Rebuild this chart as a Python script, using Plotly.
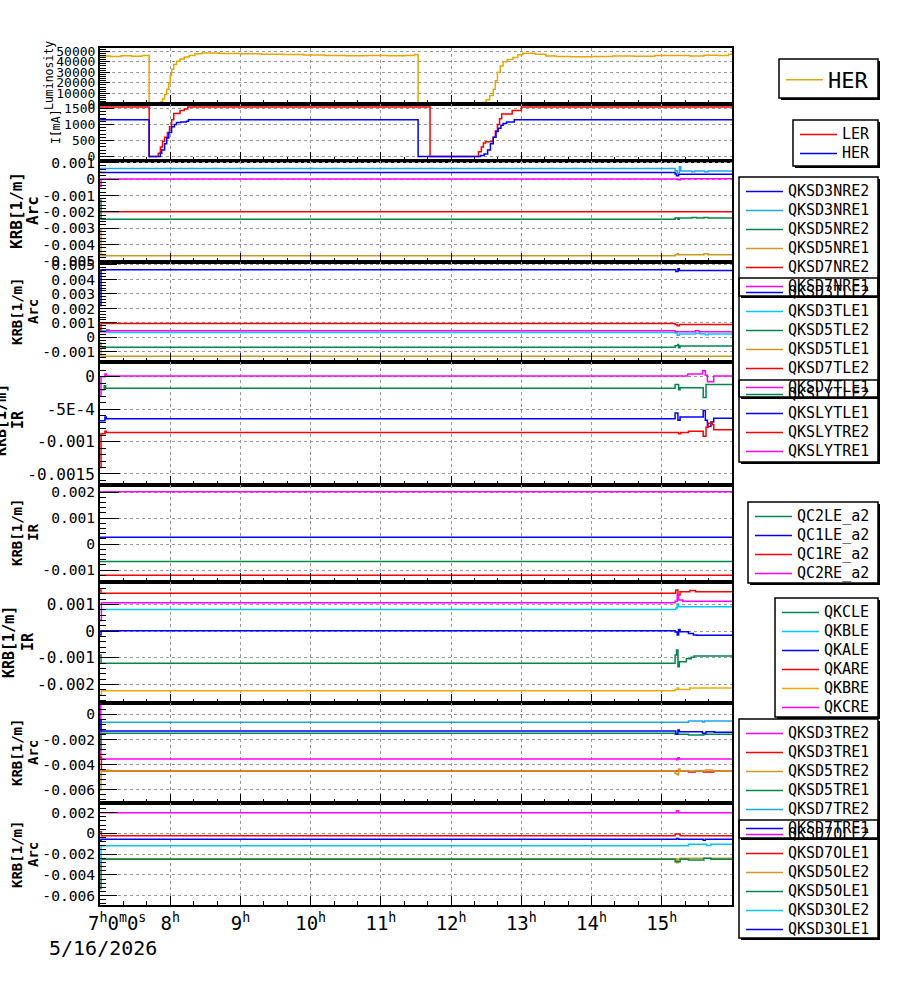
import pandas as pd
import plotly.graph_objects as go

W, H = 900, 984
DAY = pd.Timestamp("2026-05-16")

# ---------------- data: (hour of day, value) ----------------
LUMI_HER = [(7.00, 45500), (7.15, 45000), (7.30, 45600), (7.45, 45200), (7.60, 45800), (7.70, 0),
            (7.86, 2000), (7.89, 5000), (7.92, 9000), (7.95, 14000), (7.98, 20000), (8.00, 27000),
            (8.02, 33000), (8.05, 37500), (8.09, 40500), (8.14, 42500), (8.20, 44500), (8.27, 46000),
            (8.35, 47500), (8.45, 48200), (8.70, 47800), (9.00, 47500), (9.30, 47000), (9.60, 46800),
            (9.90, 46300), (10.20, 46000), (10.50, 45700), (10.80, 46000), (11.10, 45600), (11.35, 46000),
            (11.48, 46800), (11.53, 0), (12.46, 1500), (12.50, 4000), (12.55, 8000), (12.60, 14000),
            (12.63, 22000), (12.66, 30000), (12.70, 36000), (12.74, 40000), (12.80, 42000), (12.88, 44000),
            (12.95, 46500), (13.02, 48000), (13.20, 47000), (13.35, 45500), (13.50, 45000), (13.70, 44700),
            (14.00, 45000), (14.30, 45500), (14.60, 45200), (14.90, 45800), (15.20, 46000), (15.40, 45400),
            (15.60, 46200), (15.80, 45800), (15.95, 47000), (16.00, 47000)]

CUR_LER = [(7.00, 1550), (7.70, 0), (7.83, 100), (7.86, 300), (7.89, 480), (7.92, 600), (7.96, 750),
           (7.99, 930), (8.02, 1150), (8.05, 1340), (8.14, 1440), (8.20, 1480), (8.25, 1550), (11.70, 0),
           (12.39, 150), (12.43, 300), (12.46, 420), (12.49, 460), (12.60, 600), (12.63, 800), (12.66, 1000),
           (12.69, 1180), (12.72, 1330), (12.87, 1440), (13.00, 1550), (16.00, 1550)]
CUR_HER = [(7.00, 1150), (7.70, 0), (7.86, 100), (7.88, 200), (7.92, 400), (7.95, 580), (7.98, 750),
           (8.02, 930), (8.06, 1000), (8.09, 1060), (8.15, 1080), (8.23, 1100), (8.26, 1150), (11.53, 0),
           (12.42, 30), (12.47, 80), (12.52, 200), (12.56, 400), (12.60, 600), (12.64, 780), (12.67, 880),
           (12.71, 980), (12.74, 1030), (12.79, 1080), (12.90, 1150), (16.00, 1150)]

QKSD3NRE2 = [(7.0, 0.00042), (7.015, 0.0004), (15.19, 0.0003), (15.21, 0.0002), (15.24, 0.00029), (16.0, 0.00029)]
QKSD3NRE1 = [(7.0, 0.00065), (15.19, 0.0005), (15.22, 0.00035), (15.25, 0.00075), (15.27, 0.00049), (15.43, 0.00044),
             (15.47, 0.00049), (15.61, 0.00044), (15.66, 0.00049), (16.0, 0.00049)]
QKSD5NRE2 = [(7.0, -0.0013), (7.015, -0.00246), (15.19, -0.00238), (15.23, -0.00246), (15.25, -0.00238),
             (15.43, -0.00234), (15.5, -0.00238), (15.6, -0.00234), (15.66, -0.00238), (16.0, -0.00238)]
QKSD5NRE1 = [(7.0, -0.0031), (7.015, -0.00468), (15.19, -0.00462), (15.22, -0.00455), (15.24, -0.00462),
             (15.6, -0.00455), (15.66, -0.00462), (16.0, -0.00462)]
QKSD7NRE2 = [(7.0, -0.002), (16.0, -0.002)]
QKSD7NRE1 = [(7.0, -0.00045), (7.015, 0.0), (15.23, -0.00004), (15.27, 0.00002), (16.0, 0.00002)]

QKSD3TLE2 = [(7.0, 0.0022), (7.015, 0.00466), (15.2, 0.00455), (15.23, 0.00473), (15.25, 0.00461), (16.0, 0.00461)]
QKSD3TLE1 = [(7.0, 0.00045), (7.1, 0.0005), (7.12, 0.00034), (15.19, 0.0003), (15.22, 0.00015), (15.25, 0.00023),
             (15.48, 0.00028), (15.55, 0.00023), (15.62, 0.00018), (15.66, 0.00023), (16.0, 0.00023)]
QKSD5TLE2 = [(7.0, -0.0004), (7.015, -0.00068), (15.19, -0.00058), (15.23, -0.0005), (15.24, -0.00072),
             (15.26, -0.0006), (16.0, -0.0006)]
QKSD5TLE1 = [(7.0, -0.0004), (7.015, -0.0013), (16.0, -0.0013)]
QKSD7TLE2 = [(7.0, 0.0005), (7.015, 0.00096), (15.19, 0.00089), (15.22, 0.0008), (15.25, 0.00089), (16.0, 0.00089)]
QKSD7TLE1 = [(7.0, 0.00038), (7.1, 0.0005), (7.13, 0.00045), (15.19, 0.00038), (15.48, 0.00045), (15.53, 0.00038),
             (16.0, 0.00038)]

QKSLYTLE2 = [(7.0, -0.0002), (7.06, -0.00014), (7.08, -0.00018), (15.19, -0.00012), (15.24, -0.0002),
             (15.26, -0.00017), (15.59, -0.00032), (15.63, -0.00012), (16.0, -0.00012)]
QKSLYTLE1 = [(7.0, -0.00068), (7.07, -0.00062), (7.09, -0.00065), (15.19, -0.00056), (15.23, -0.00067),
             (15.26, -0.00062), (15.59, -0.00052), (15.62, -0.00067), (15.65, -0.00077), (15.7, -0.0007),
             (15.74, -0.00064), (16.0, -0.00064)]
QKSLYTRE2 = [(7.0, -0.0014), (7.015, -0.00088), (7.07, -0.00084), (7.09, -0.00086), (15.24, -0.00088),
             (15.27, -0.00086), (15.38, -0.00084), (15.59, -0.00092), (15.63, -0.00078), (15.66, -0.00072),
             (15.72, -0.00074), (15.74, -0.00082), (16.0, -0.00082)]
QKSLYTRE1 = [(7.0, -0.0003), (7.015, 0.0), (7.07, 0.00004), (7.09, 0.00001), (15.37, 0.00004), (15.58, 0.00009),
             (15.62, 0.00002), (15.65, -0.00008), (15.74, 0.00001), (16.0, 0.00001)]

QC2LE_a2 = [(7.0, -0.00067), (16.0, -0.00067)]
QC1LE_a2 = [(7.0, 0.00026), (16.0, 0.00026)]
QC1RE_a2 = [(7.0, -0.0012), (16.0, -0.0012)]
QC2RE_a2 = [(7.0, 0.00201), (16.0, 0.00201)]

QKCLE = [(7.0, -0.0009), (7.015, -0.00121), (15.19, -0.0009), (15.21, -0.00071), (15.23, -0.00134),
         (15.25, -0.00115), (15.35, -0.00104), (15.42, -0.00098), (15.46, -0.00094), (16.0, -0.00094)]
QKBLE = [(7.0, 0.00081), (15.2, 0.00086), (15.22, 0.00101), (15.24, 0.00091), (16.0, 0.00091)]
QKALE = [(7.0, -0.00015), (7.015, 0.00001), (15.19, -0.00004), (15.22, -0.00015), (15.24, 0.00006),
         (15.26, -0.00003), (15.38, -0.00009), (15.45, -0.00015), (15.5, -0.00016), (16.0, -0.00016)]
QKARE = [(7.0, 0.00154), (7.015, 0.00142), (15.2, 0.00154), (15.23, 0.00135), (15.26, 0.00147), (15.4, 0.00152),
         (15.48, 0.00147), (16.0, 0.00147)]
QKBRE = [(7.0, -0.0024), (7.02, -0.00224), (15.19, -0.00219), (15.22, -0.00214), (15.24, -0.00219),
         (15.4, -0.00214), (16.0, -0.00214)]
QKCRE = [(7.0, 0.0004), (7.02, 0.00106), (15.19, 0.00112), (15.22, 0.00135), (15.24, 0.00116), (15.3, 0.00112),
         (16.0, 0.00112)]

QKSD3TRE2 = [(7.0, 0.0008), (7.012, -0.00355), (15.21, -0.0036), (15.23, -0.00344), (15.25, -0.00355), (16.0, -0.00355)]
QKSD3TRE1 = [(7.0, -0.0034), (7.02, -0.0045), (15.38, -0.00458), (15.48, -0.0045), (15.59, -0.00458),
             (15.74, -0.0045), (16.0, -0.0045)]
QKSD5TRE2 = [(7.0, -0.006), (7.015, -0.0045), (7.1, -0.00442), (7.12, -0.0045), (15.19, -0.0047), (15.22, -0.0048),
             (15.24, -0.00435), (15.26, -0.0045), (15.62, -0.00442), (15.72, -0.0045), (16.0, -0.0045)]
QKSD5TRE1 = [(7.0, -0.0028), (7.015, -0.00151), (15.19, -0.00159), (15.38, -0.00165), (15.6, -0.00159), (16.0, -0.00159)]
QKSD7TRE2 = [(7.0, -0.00063), (15.38, -0.00053), (15.58, -0.00061), (15.61, -0.00053), (16.0, -0.00053)]
QKSD7TRE1 = [(7.0, -0.00045), (7.015, -0.00133), (15.2, -0.00156), (15.23, -0.00125), (15.25, -0.00138),
             (15.58, -0.0015), (15.63, -0.00138), (15.75, -0.00143), (16.0, -0.00143)]

QKSD7OLE2 = [(7.0, 0.00199), (15.21, 0.00218), (15.24, 0.00199), (16.0, 0.00199)]
QKSD7OLE1 = [(7.0, 0.00015), (7.02, -0.00023), (15.19, -0.00007), (15.26, -0.00023), (16.0, -0.00023)]
QKSD5OLE2 = [(7.0, -0.00245), (15.21, -0.00283), (15.23, -0.0025), (15.26, -0.00241), (16.0, -0.00241)]
QKSD5OLE1 = [(7.0, -0.0053), (7.015, -0.0025), (15.19, -0.00273), (15.26, -0.0025), (15.38, -0.00257),
             (15.6, -0.00241), (15.7, -0.0025), (16.0, -0.0025)]
QKSD3OLE2 = [(7.0, -0.0029), (7.015, -0.0012), (15.38, -0.00106), (15.64, -0.00116), (15.7, -0.00106), (16.0, -0.00106)]
QKSD3OLE1 = [(7.0, -0.0007), (7.015, -0.00058), (15.21, -0.0005), (15.24, -0.00058), (15.59, -0.00066),
             (15.62, -0.00058), (16.0, -0.00058)]

SERIES = [
    [("HER", LUMI_HER)],
    [("LER", CUR_LER), ("HER", CUR_HER)],
    [("QKSD3NRE2", QKSD3NRE2), ("QKSD3NRE1", QKSD3NRE1), ("QKSD5NRE2", QKSD5NRE2),
     ("QKSD5NRE1", QKSD5NRE1), ("QKSD7NRE2", QKSD7NRE2), ("QKSD7NRE1", QKSD7NRE1)],
    [("QKSD3TLE2", QKSD3TLE2), ("QKSD3TLE1", QKSD3TLE1), ("QKSD5TLE2", QKSD5TLE2),
     ("QKSD5TLE1", QKSD5TLE1), ("QKSD7TLE2", QKSD7TLE2), ("QKSD7TLE1", QKSD7TLE1)],
    [("QKSLYTLE2", QKSLYTLE2), ("QKSLYTLE1", QKSLYTLE1), ("QKSLYTRE2", QKSLYTRE2), ("QKSLYTRE1", QKSLYTRE1)],
    [("QC2LE_a2", QC2LE_a2), ("QC1LE_a2", QC1LE_a2), ("QC1RE_a2", QC1RE_a2), ("QC2RE_a2", QC2RE_a2)],
    [("QKCLE", QKCLE), ("QKBLE", QKBLE), ("QKALE", QKALE), ("QKARE", QKARE), ("QKBRE", QKBRE), ("QKCRE", QKCRE)],
    [("QKSD3TRE2", QKSD3TRE2), ("QKSD3TRE1", QKSD3TRE1), ("QKSD5TRE2", QKSD5TRE2),
     ("QKSD5TRE1", QKSD5TRE1), ("QKSD7TRE2", QKSD7TRE2), ("QKSD7TRE1", QKSD7TRE1)],
    [("QKSD7OLE2", QKSD7OLE2), ("QKSD7OLE1", QKSD7OLE1), ("QKSD5OLE2", QKSD5OLE2),
     ("QKSD5OLE1", QKSD5OLE1), ("QKSD3OLE2", QKSD3OLE2), ("QKSD3OLE1", QKSD3OLE1)],
]

# tick labels
HOUR_TICKS = [7, 8, 9, 10, 11, 12, 13, 14, 15]
HOUR_LABELS = ["\u00a0\u00a0\u00a07<sup>h</sup>0<sup>m</sup>0<sup>s</sup>"] + [f"{h}<sup>h</sup>" for h in HOUR_TICKS[1:]]
DATE_LABEL = "5/16/2026"
Y_TICKVALS = [
    [0, 10000, 20000, 30000, 40000, 50000],
    [0, 500, 1000, 1500],
    [0.001, 0, -0.001, -0.002, -0.003, -0.004, -0.005],
    [0.005, 0.004, 0.003, 0.002, 0.001, 0, -0.001],
    [0, -0.0005, -0.001, -0.0015],
    [0.002, 0.001, 0, -0.001],
    [0.001, 0, -0.001, -0.002],
    [0, -0.002, -0.004, -0.006],
    [0.002, 0, -0.002, -0.004, -0.006],
]
Y_TICKTEXT = [
    ["0", "10000", "20000", "30000", "40000", "50000"],
    ["0", "500", "1000", "1500"],
    ["0.001", "0", "-0.001", "-0.002", "-0.003", "-0.004", "-0.005"],
    ["0.005", "0.004", "0.003", "0.002", "0.001", "0", "-0.001"],
    ["0", "-5E-4", "-0.001", "-0.0015"],
    ["0.002", "0.001", "0", "-0.001"],
    ["0.001", "0", "-0.001", "-0.002"],
    ["0", "-0.002", "-0.004", "-0.006"],
    ["0.002", "0", "-0.002", "-0.004", "-0.006"],
]
TITLES = [("Luminosity", None), ("I[mA]", None), ("KRB[1/m]", "Arc"), ("KRB[1/m]", "Arc"), ("KRB[1/m]", "IR"),
          ("KRB[1/m]", "IR"), ("KRB[1/m]", "IR"), ("KRB[1/m]", "Arc"), ("KRB[1/m]", "Arc")]

# ---------------- styles / layout ----------------
BLUE, RED, MAG, GREEN = "#0000ff", "#ff0000", "#ff00ff", "#00884a"
SKY, CYAN, GOLD, ORANGE = "#1ea5e6", "#00c8ff", "#cc9a22", "#f2aa00"
COLORS = [
    ["#e8a600"],
    [RED, BLUE],
    [BLUE, SKY, GREEN, GOLD, RED, MAG],
    [BLUE, CYAN, GREEN, GOLD, RED, MAG],
    [GREEN, BLUE, RED, MAG],
    [GREEN, BLUE, RED, MAG],
    [GREEN, CYAN, BLUE, RED, ORANGE, MAG],
    [MAG, RED, GOLD, GREEN, SKY, BLUE],
    [MAG, RED, GOLD, GREEN, CYAN, BLUE],
]
PANEL_PX = [(48, 104), (104, 161), (161, 262), (262, 362), (362, 485), (485, 582), (582, 703), (703, 803), (803, 905)]
Y_RANGE = [[0, 53000], [-140, 1640], [-0.00506, 0.0011], [-0.0017, 0.0052], [-0.00167, 0.000226],
           [-0.00146, 0.00227], [-0.0027, 0.00184], [-0.00704, 0.0009], [-0.0069, 0.00292]]
Y_MINOR = [2000, 100, 0.0002, 0.0002, 0.0001, 0.0002, 0.0002, 0.0004, 0.0004]
Y_FONT = [13, 13, 14.6, 14.6, 16, 14.6, 16, 14.6, 14.6]
Y_TICKLEN = [10, 14, 19, 17, 20, 19, 19, 17, 17]
# title placement: (x line1, x line2, y centre, font size, bold)
TITLE_POS = [(49, None, 76, 11.5, False), (56, None, 127, 11.5, False), (17, 33, 211, 16, True),
             (17, 33, 312, 14, True), (1, 18, 420, 15, True), (17, 33, 533, 14, True),
             (9, 28, 642, 15, True), (17, 33, 753, 14, True), (17, 33, 855, 14, True)]
LEGEND_BOX = [(779, 59, 878, 98), (793, 120, 878, 166), (739, 177, 878, 296), (739, 278, 878, 397),
              (739, 380, 878, 462), (748, 502, 878, 583), (775, 598, 878, 717), (739, 719, 878, 838),
              (739, 820, 878, 938)]
FONT = "DejaVu Sans Mono"


def to_time(h):
    return DAY + pd.Timedelta(hours=h)


def sfx(p):
    return "" if p == 1 else str(p)


fig = go.Figure()
for p, (series, colors) in enumerate(zip(SERIES, COLORS), start=1):
    for (name, pts), col in zip(series, colors):
        label = name if p == 1 else f'<span style="font-size:15px">{name}</span>'
        fig.add_trace(go.Scatter(
            x=[to_time(t) for t, _ in pts], y=[v for _, v in pts],
            mode="lines", line=dict(color=col, width=1.5, shape="hv"),
            name=label, legend="legend" + sfx(p),
            xaxis="x" + sfx(p), yaxis="y" + sfx(p), hoverinfo="skip"))

layout = dict(width=W, height=H, margin=dict(l=0, r=0, t=0, b=0, autoexpand=False), paper_bgcolor="white",
              plot_bgcolor="white", showlegend=True, hovermode=False,
              font=dict(family=FONT, color="black"))
annotations, shapes = [], []
for p in range(1, 10):
    top, bot = PANEL_PX[p - 1]
    layout["xaxis" + sfx(p)] = dict(
        domain=[100 / W, 732 / W], anchor="y" + sfx(p), type="date", automargin=False,
        range=[to_time(7), to_time(16)], tickmode="array",
        tickvals=[to_time(h) for h in HOUR_TICKS], ticktext=HOUR_LABELS,
        showticklabels=(p == 9), tickfont=dict(size=19, family=FONT),
        ticks="inside", ticklen=9, tickwidth=1, tickcolor="black",
        minor=dict(tickmode="linear", tick0="2026-05-16 07:00:00", dtick=20 * 60 * 1000,
                   ticks="inside", ticklen=4, tickcolor="black", showgrid=False),
        showline=True, linecolor="black", linewidth=2, mirror=True,
        showgrid=True, gridcolor="#9a9a9a", griddash="3px,3px", gridwidth=1, zeroline=False)
    layout["yaxis" + sfx(p)] = dict(
        domain=[1 - bot / H, 1 - top / H], anchor="x" + sfx(p), range=Y_RANGE[p - 1], automargin=False,
        tickmode="array", tickvals=Y_TICKVALS[p - 1], ticktext=Y_TICKTEXT[p - 1],
        tickfont=dict(size=Y_FONT[p - 1], family=FONT), ticks="inside",
        ticklen=Y_TICKLEN[p - 1], tickwidth=1, tickcolor="black",
        minor=dict(tickmode="linear", tick0=0, dtick=Y_MINOR[p - 1], ticks="inside",
                   ticklen=6, tickcolor="black", showgrid=False),
        showline=True, linecolor="black", linewidth=2, mirror=True,
        showgrid=True, gridcolor="#9a9a9a", griddash="3px,3px", gridwidth=1, zeroline=False)

    # axis titles
    (t1, t2), (x1, x2, yc, fs, bold) = TITLES[p - 1], TITLE_POS[p - 1]
    for txt, xp in ((t1, x1), (t2, x2)):
        if txt is None:
            continue
        annotations.append(dict(text=f"<b>{txt}</b>" if bold else txt, x=xp / W, y=1 - yc / H,
                                xref="paper", yref="paper", xanchor="center", yanchor="middle",
                                textangle=-90, showarrow=False, font=dict(size=fs, family=FONT)))

    # legend + box with shadow
    l, t, r, b = LEGEND_BOX[p - 1]
    layout["legend" + sfx(p)] = dict(
        x=(l + 2) / W, y=1 - t / H, xanchor="left", yanchor="top", bgcolor="rgba(0,0,0,0)",
        borderwidth=0, itemwidth=37, traceorder="normal", tracegroupgap=0,
        font=dict(family=FONT, size=22 if p == 1 else 12, color="black"))
    shapes.append(dict(type="rect", xref="paper", yref="paper", x0=r / W, x1=(r + 2) / W,
                       y0=1 - (b + 2) / H, y1=1 - (t + 2) / H, fillcolor="black", line=dict(width=0)))
    shapes.append(dict(type="rect", xref="paper", yref="paper", x0=(l + 2) / W, x1=(r + 2) / W,
                       y0=1 - (b + 2) / H, y1=1 - b / H, fillcolor="black", line=dict(width=0)))
    shapes.append(dict(type="rect", xref="paper", yref="paper", x0=l / W, x1=r / W,
                       y0=1 - b / H, y1=1 - t / H, fillcolor="rgba(0,0,0,0)",
                       line=dict(color="black", width=1.5)))

annotations.append(dict(text=DATE_LABEL, x=47 / W, y=1 - 948 / H, xref="paper", yref="paper",
                        xanchor="left", yanchor="middle", showarrow=False, font=dict(size=20, family=FONT)))
layout["annotations"] = annotations
layout["shapes"] = shapes
fig.update_layout(**layout)
fig.write_html("out.html")
